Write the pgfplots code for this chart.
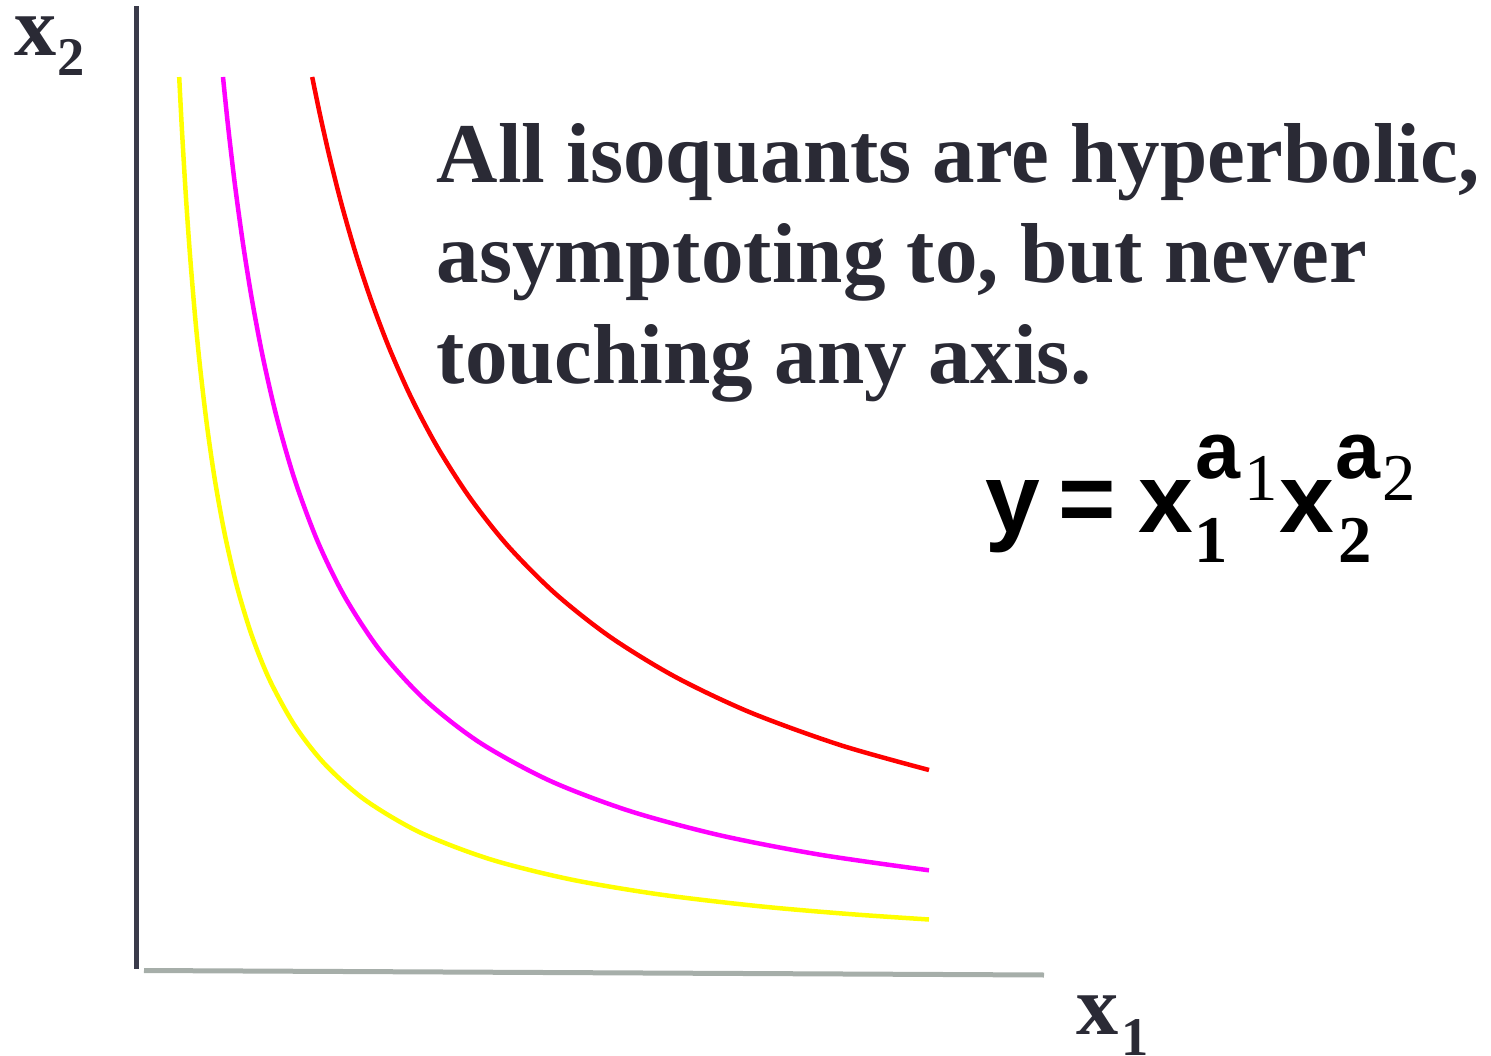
\documentclass[border=0pt]{standalone}
\usepackage{pgfplots}
\pgfplotsset{compat=1.18}
\usepackage{fontspec}
\setmainfont{Liberation Serif}
\newfontfamily\arial{Liberation Sans}

\definecolor{txt}{RGB}{42,42,53}
\definecolor{vaxis}{RGB}{58,59,74}
\definecolor{haxis}{RGB}{166,174,169}
\definecolor{isoY}{RGB}{255,255,0}
\definecolor{isoM}{RGB}{255,0,255}
\definecolor{isoR}{RGB}{255,0,0}

\begin{document}
\begin{tikzpicture}
\begin{axis}[
  width=14.91cm, height=10.56cm, scale only axis,
  xmin=0, xmax=1491, ymin=0, ymax=1056,
  y dir=reverse, hide axis, clip=false,
]
\path[use as bounding box] (rel axis cs:0,0) rectangle (rel axis cs:1,1);

% axes
\addplot[vaxis, line width=0.5mm, mark=none] coordinates {(136.5,6) (136.5,969)};
\addplot[haxis, line width=0.5mm, mark=none] coordinates {(144,970.5) (1044,975)};

% isoquants
\addplot[isoY, line width=0.45mm, mark=none, smooth] coordinates {
(179.2,77) (182,131) (186,198) (190,255) (195,315.5) (200,366.4) (207,425.7)
(215,480.7) (225,535.4) (237,586.8) (252,636.1) (270,680.7) (295,725.9)
(325,764.3) (365,799.9) (420,832.4) (490,859.2) (570,879.3) (660,894.5)
(760,906.3) (850,914.1) (929,919.5)};
\addplot[isoM, line width=0.45mm, mark=none, smooth] coordinates {
(223,77) (228,125.6) (235,185.2) (243,243.7) (252,299.9) (263,357.8)
(277,418.4) (295,480.6) (318,542.2) (345,597.2) (380,650.4) (425,699.8)
(480,742.7) (550,780.8) (630,811.1) (720,835.3) (820,854.7) (929,870.3)};
\addplot[isoR, line width=0.45mm, mark=none, smooth] coordinates {
(312.2,77) (320,114.7) (330,158.7) (342,205.9) (356,254.4) (372,302.7)
(390,349.9) (412,399.2) (438,448.1) (470,497.9) (508,546) (555,593.3)
(610,636.8) (675,676.7) (750,712.3) (840,745) (929,770)};

% axis labels
\node[anchor=base west, inner sep=0, txt, font=\fontsize{24}{28}\selectfont\bfseries] at (axis cs:14,55) {x};
\node[anchor=base west, inner sep=0, txt, font=\fontsize{15.5}{18}\selectfont\bfseries] at (axis cs:57,75) {2};
\node[anchor=base west, inner sep=0, txt, font=\fontsize{24}{28}\selectfont\bfseries] at (axis cs:1076,1034) {x};
\node[anchor=base west, inner sep=0, txt, font=\fontsize{15.5}{18}\selectfont\bfseries] at (axis cs:1121,1055) {1};

% statement
\node[anchor=base west, inner sep=0, txt, font=\fontsize{24.2}{28}\selectfont\bfseries] at (axis cs:436,182) {All isoquants are hyperbolic,};
\node[anchor=base west, inner sep=0, txt, font=\fontsize{24.2}{28}\selectfont\bfseries] at (axis cs:436,282) {asymptoting to, but never};
\node[anchor=base west, inner sep=0, txt, font=\fontsize{24.2}{28}\selectfont\bfseries] at (axis cs:436,383) {touching any axis.};

% production function
\node[anchor=base west, inner sep=0, font=\fontsize{28}{32}\selectfont\arial\bfseries] at (axis cs:985,532) {y};
\node[anchor=base west, inner sep=0, font=\fontsize{28}{32}\selectfont\arial\bfseries] at (axis cs:1058,532) {=};
\node[anchor=base west, inner sep=0, font=\fontsize{28}{32}\selectfont\arial\bfseries] at (axis cs:1138,532) {x};
\node[anchor=base west, inner sep=0, font=\fontsize{23}{26}\selectfont\arial\bfseries] at (axis cs:1195,478) {a};
\node[anchor=base west, inner sep=0, font=\fontsize{19}{22}\selectfont] at (axis cs:1244,500) {1};
\node[anchor=base west, inner sep=0, font=\fontsize{19}{22}\selectfont\bfseries] at (axis cs:1194,562) {1};
\node[anchor=base west, inner sep=0, font=\fontsize{28}{32}\selectfont\arial\bfseries] at (axis cs:1279,532) {x};
\node[anchor=base west, inner sep=0, font=\fontsize{23}{26}\selectfont\arial\bfseries] at (axis cs:1335,478) {a};
\node[anchor=base west, inner sep=0, font=\fontsize{19}{22}\selectfont] at (axis cs:1382,500) {2};
\node[anchor=base west, inner sep=0, font=\fontsize{19}{22}\selectfont\bfseries] at (axis cs:1338,562) {2};
\end{axis}
\end{tikzpicture}
\end{document}
